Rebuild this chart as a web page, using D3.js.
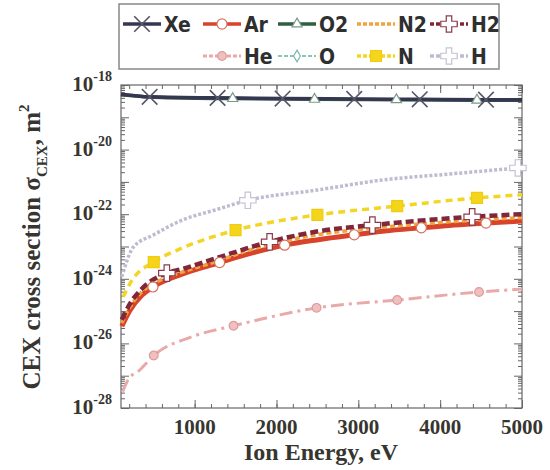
<!DOCTYPE html>
<html>
<head>
<meta charset="utf-8">
<script src="https://cdn.jsdelivr.net/npm/d3@7"></script>
<style>
  body { margin: 0; background: #fff; }
  svg { display: block; }
  .lab { font-family: "Liberation Serif", "Times New Roman", serif; font-weight: bold; fill: #36352f; }
  .leg { font-family: "Liberation Sans Narrow", "DejaVu Sans Condensed", "DejaVu Sans", sans-serif; font-stretch: condensed; font-weight: bold; fill: #2f2f2f; font-size: 21px; }
</style>
</head>
<body>
<svg id="svg1" width="550" height="470"></svg>
<script>
// energies (eV) and CEX cross sections (m^2)
var xeE = [100, 450, 1280, 2075, 2950, 3750, 4560, 5000];
var xeS = [5.2e-19, 4.3e-19, 4.0e-19, 3.8e-19, 3.7e-19, 3.6e-19, 3.5e-19, 3.5e-19];
var xeM = [1, 2, 3, 4, 5, 6];

var o2E = [100, 600, 1465, 2465, 3465, 4450, 5000];
var o2S = [5.0e-19, 4.1e-19, 3.8e-19, 3.6e-19, 3.5e-19, 3.4e-19, 3.4e-19];
var o2M = [2, 3, 4, 5];

var oE = [100, 1000, 2000, 3000, 4000, 5000];
var oS = [4.8e-19, 3.9e-19, 3.7e-19, 3.5e-19, 3.4e-19, 3.3e-19];
var oM = [];

var heE = [120, 185, 330, 500, 965, 1475, 2490, 3475, 4475, 5000];
var heS = [3.2e-28, 7.4e-28, 1.5e-27, 4.2e-27, 1.6e-26, 3.5e-26, 1.26e-25, 2.2e-25, 3.9e-25, 4.8e-25];
var heM = [3, 5, 6, 7, 8];

var arE = [110, 210, 355, 490, 845, 1305, 1670, 2100, 2490, 2950, 3320, 3770, 4110, 4560, 5000];
var arS = [3.4e-26, 1.07e-25, 3.1e-25, 5.6e-25, 1.4e-24, 3.2e-24, 6.0e-24, 1.1e-23, 1.6e-23, 2.3e-23, 3.0e-23, 3.8e-23, 4.5e-23, 5.3e-23, 6.2e-23];
var arM = [3, 5, 7, 9, 11, 13];

var n2E = [110, 210, 355, 515, 845, 1245, 1670, 2490, 3320, 4110, 5000];
var n2S = [4.3e-26, 1.35e-25, 3.9e-25, 7.4e-25, 1.6e-24, 3.3e-24, 7.8e-24, 2.3e-23, 4.0e-23, 5.8e-23, 7.9e-23];
var n2M = [];

var h2E = [110, 210, 355, 660, 845, 1245, 1916, 2490, 3172, 4391, 5000];
var h2S = [5.4e-26, 1.7e-25, 4.9e-25, 1.5e-24, 2.0e-24, 4.2e-24, 1.4e-23, 2.9e-23, 4.6e-23, 8.3e-23, 1.0e-22];
var h2M = [3, 6, 8, 9];

var nE = [125, 235, 500, 845, 1500, 2500, 3475, 4450, 5000];
var nS = [2.75e-25, 9.1e-25, 3.3e-24, 8.9e-24, 3.2e-23, 9.5e-23, 1.78e-22, 3.2e-22, 4.0e-22];
var nM = [2, 4, 5, 6, 7];

var hE = [110, 250, 500, 850, 1250, 1650, 2500, 3300, 4100, 4950];
var hS = [1.15e-24, 9.5e-24, 2.3e-23, 6.6e-23, 1.35e-22, 2.7e-22, 5.6e-22, 1.15e-21, 1.74e-21, 2.7e-21];
var hM = [5, 9];

var xTicks = [1000, 2000, 3000, 4000, 5000];
var yExp = [-28, -26, -24, -22, -20, -18];

var svg = d3.select("#svg1");
var gauche = 121, droite = 522, haut = 85, bas = 408;

var x = d3.scaleLinear().domain([100, 5000]).range([gauche, droite]);
var y = d3.scaleLog().domain([1e-28, 1e-18]).range([bas, haut]);

var times = d3.symbolTimes || d3.symbolX || d3.symbolCross;

var series = [
  {nom: "He", E: heE, S: heS, M: heM, couleur: "#eaa9a9", larg: 3, tirets: "13,5,3,5", sym: d3.symbolCircle, taille: 60, rempli: "#eec0c0", trait: "#e09a9a"},
  {nom: "H", E: hE, S: hS, M: hM, couleur: "#bdbcd0", larg: 3.5, tirets: "3,2", sym: d3.symbolCross, taille: 150, rempli: "#fff", trait: "#c4c4d2"},
  {nom: "N", E: nE, S: nS, M: nM, couleur: "#f3d525", larg: 3.5, tirets: "7,5", sym: d3.symbolSquare, taille: 120, rempli: "#f5d41c", trait: "#f0cc10"},
  {nom: "Ar", E: arE, S: arS, M: arM, couleur: "#d8432c", larg: 5, tirets: null, sym: d3.symbolCircle, taille: 80, rempli: "#fff", trait: "#d8705e"},
  {nom: "N2", E: n2E, S: n2S, M: n2M, couleur: "#f0a43e", larg: 3.5, tirets: "5,3", sym: null},
  {nom: "H2", E: h2E, S: h2S, M: h2M, couleur: "#82263a", larg: 4.5, tirets: "8,4", sym: d3.symbolCross, taille: 150, rempli: "#fff", trait: "#8a3a4a"},
  {nom: "O", E: oE, S: oS, M: oM, couleur: "#8ac6b8", larg: 2, tirets: "5,3", sym: d3.symbolDiamond, taille: 40, rempli: "#fff", trait: "#7ab8aa"},
  {nom: "O2", E: o2E, S: o2S, M: o2M, couleur: "#2f5e45", larg: 3.5, tirets: null, sym: d3.symbolTriangle, taille: 45, rempli: "#fff", trait: "#7a9a88"},
  {nom: "Xe", E: xeE, S: xeS, M: xeM, couleur: "#363650", larg: 3.5, tirets: null, sym: times, taille: 160, rempli: "none", trait: "#55556a"}
];

var ligne = d3.line()
  .x(function(d) { return x(d[0]); })
  .y(function(d) { return y(d[1]); })
  .curve(d3.curveMonotoneX);

// frame
svg.append("rect")
  .attr("x", gauche).attr("y", haut)
  .attr("width", droite - gauche).attr("height", bas - haut)
  .attr("fill", "none").attr("stroke", "#666").attr("stroke-width", 1.2);

// minor log ticks
var mineursY = [];
for (var n = -28; n < -18; n++) {
  for (var k = 2; k <= 9; k++) mineursY.push(k * Math.pow(10, n));
}
var majeursY = d3.range(-28, -17).map(function(e) { return Math.pow(10, e); });
var mineursX = d3.range(200, 5001, 200);

svg.append("g").attr("transform", "translate(" + gauche + ",0)")
  .call(d3.axisLeft(y).tickValues(majeursY).tickSize(-8).tickFormat(""));
svg.append("g").attr("transform", "translate(" + gauche + ",0)")
  .call(d3.axisLeft(y).tickValues(mineursY).tickSize(-4).tickFormat(""));
svg.append("g").attr("transform", "translate(" + droite + ",0)")
  .call(d3.axisRight(y).tickValues(majeursY).tickSize(-8).tickFormat(""));
svg.append("g").attr("transform", "translate(" + droite + ",0)")
  .call(d3.axisRight(y).tickValues(mineursY).tickSize(-4).tickFormat(""));
svg.append("g").attr("transform", "translate(0," + bas + ")")
  .call(d3.axisBottom(x).tickValues(xTicks).tickSize(-8).tickFormat(""));
svg.append("g").attr("transform", "translate(0," + bas + ")")
  .call(d3.axisBottom(x).tickValues(mineursX).tickSize(-4).tickFormat(""));
svg.append("g").attr("transform", "translate(0," + haut + ")")
  .call(d3.axisTop(x).tickValues(xTicks).tickSize(-8).tickFormat(""));
svg.append("g").attr("transform", "translate(0," + haut + ")")
  .call(d3.axisTop(x).tickValues(mineursX).tickSize(-4).tickFormat(""));
svg.selectAll(".domain").remove();
svg.selectAll(".tick line").attr("stroke", "#666").attr("stroke-width", 1);

// curves
series.forEach(function(s) {
  var pts = s.E.map(function(e, i) { return [e, s.S[i]]; });
  svg.append("path")
    .datum(pts)
    .attr("d", ligne)
    .attr("fill", "none")
    .attr("stroke", s.couleur)
    .attr("stroke-width", s.larg)
    .attr("stroke-dasharray", s.tirets);
});

// markers
series.forEach(function(s) {
  if (!s.sym) return;
  svg.selectAll(null)
    .data(s.M)
    .enter()
    .append("path")
    .attr("d", d3.symbol().type(s.sym).size(s.taille))
    .attr("transform", function(i) { return "translate(" + x(s.E[i]) + "," + y(s.S[i]) + ")"; })
    .attr("fill", s.rempli)
    .attr("stroke", s.trait)
    .attr("stroke-width", s.sym === times ? 1.6 : 1.2);
});

// y tick labels 10^n
yExp.forEach(function(e) {
  var t = svg.append("text").attr("class", "lab")
    .attr("x", 112).attr("y", y(Math.pow(10, e)) + 6)
    .attr("text-anchor", "end").style("font-size", "21px");
  t.append("tspan").text("10");
  t.append("tspan").attr("dy", -10).style("font-size", "14px").text(String(e));
});

// x tick labels
xTicks.forEach(function(v) {
  svg.append("text").attr("class", "lab")
    .attr("x", x(v)).attr("y", 434)
    .attr("text-anchor", "middle").style("font-size", "21px")
    .text(v);
});

// axis titles
svg.append("text").attr("class", "lab")
  .attr("x", 321).attr("y", 460)
  .attr("text-anchor", "middle").style("font-size", "24px")
  .text("Ion Energy, eV");

var ty = svg.append("text").attr("class", "lab")
  .attr("transform", "translate(40,247) rotate(-90)")
  .attr("text-anchor", "middle").style("font-size", "25px");
ty.append("tspan").text("CEX cross section \u03c3");
ty.append("tspan").attr("dy", 7).style("font-size", "15px").text("CEX");
ty.append("tspan").attr("dy", -7).text(", m");
ty.append("tspan").attr("dy", -11).style("font-size", "15px").text("2");

// legend
svg.append("rect")
  .attr("x", 119).attr("y", 4).attr("width", 380).attr("height", 65)
  .attr("fill", "#fff").attr("stroke", "#888").attr("stroke-width", 1.5);

var placeLegende = {
  "Xe": [123, 24], "Ar": [203, 24], "O2": [278, 24], "N2": [357, 24], "H2": [430, 24],
  "He": [203, 56], "O": [278, 56], "N": [357, 56], "H": [430, 56]
};
series.forEach(function(s) {
  var p = placeLegende[s.nom];
  var g = svg.append("g").attr("transform", "translate(" + p[0] + "," + p[1] + ")");
  g.append("line")
    .attr("x1", 0).attr("x2", 38).attr("y1", 0).attr("y2", 0)
    .attr("stroke", s.couleur)
    .attr("stroke-width", Math.min(s.larg, 3.5))
    .attr("stroke-dasharray", s.tirets ? "4,2" : null);
  if (s.sym) {
    g.append("path")
      .attr("d", d3.symbol().type(s.sym).size(s.taille))
      .attr("transform", "translate(19,0)")
      .attr("fill", s.rempli)
      .attr("stroke", s.trait)
      .attr("stroke-width", s.sym === times ? 1.6 : 1.2);
  }
  g.append("text").attr("class", "leg")
    .attr("x", 41).attr("y", 8)
    .text(s.nom);
});
</script>
</body>
</html>
